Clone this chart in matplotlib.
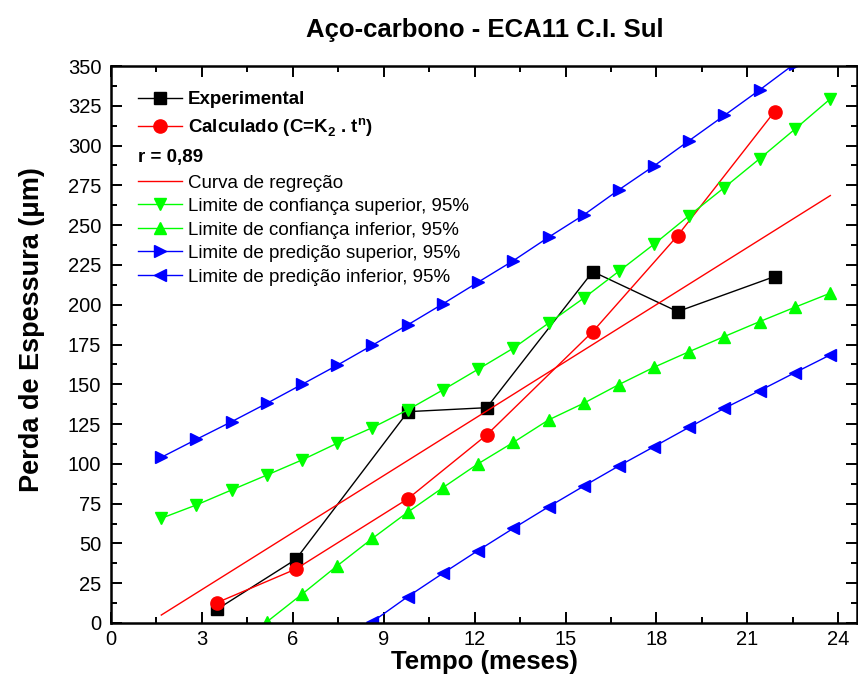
import numpy as np
import matplotlib
matplotlib.use("Agg")
import matplotlib.pyplot as plt

plt.rcParams['font.family'] = ['Liberation Sans', 'DejaVu Sans']
plt.rcParams['mathtext.fontset'] = 'custom'
plt.rcParams['mathtext.rm'] = 'Liberation Sans'
plt.rcParams['mathtext.bf'] = 'Liberation Sans:bold'

# dados experimentais e calculados
meses = [3.5, 6.1, 9.8, 12.4, 15.9, 18.7, 21.9]
experimental = [8.6, 40.0, 132.8, 135.3, 220.8, 195.7, 217.7]
calculado = [12.8, 33.9, 78.1, 118.2, 183.1, 243.4, 321.4]

# curva de regressão (reta)
x_reg = [1.66, 23.74]
y_reg = [5.0, 268.6]

# limites (grelha comum)
x_lim = [1.66, 2.82, 3.98, 5.15, 6.31, 7.47, 8.63, 9.79, 10.95, 12.11,
         13.28, 14.44, 15.60, 16.76, 17.92, 19.08, 20.24, 21.41, 22.57, 23.73]
conf_sup = [65.8, 74.2, 83.6, 93.0, 102.5, 113.0, 122.8, 133.9, 146.4, 159.4,
            172.7, 188.4, 204.1, 221.0, 238.0, 256.0, 273.6, 291.8, 310.3, 329.2]
conf_inf = [0.8, 18.2, 36.0, 53.2, 69.6, 85.0, 100.0, 113.5, 127.6, 138.1,
            149.8, 160.7, 170.5, 180.0, 189.4, 198.4, 207.2]  # a partir de x_lim[3]
pred_sup = [104.1, 115.4, 126.5, 138.1, 150.0, 162.0, 174.6, 187.3, 200.5, 214.1,
            227.7, 242.4, 256.4, 272.2, 287.2, 303.1, 318.9, 335.0, 351.5]
pred_inf = [0.8, 16.5, 31.2, 45.5, 59.5, 73.0, 86.0, 98.7, 110.8, 123.0,
            134.9, 146.0, 157.3, 168.4]  # a partir de x_lim[6]

verde = '#00ff00'
azul = '#0000ff'
vermelho = '#ff0000'

fig = plt.figure(figsize=(8.58, 6.9), dpi=100)
ax = fig.add_axes([111 / 858, 67 / 690, 746 / 858, 557 / 690])

l_exp, = ax.plot(meses, experimental, 'k-', lw=1, marker='s', ms=8.5, label='Experimental')
l_calc, = ax.plot(meses, calculado, '-', color=vermelho, lw=1, marker='o', ms=9.5,
                  label=r'Calculado (C=K$_\mathbf{2}$ . t$^\mathbf{n}$)')
l_reg, = ax.plot(x_reg, y_reg, '-', color=vermelho, lw=1, label='Curva de regreção')
l_cs, = ax.plot(x_lim, conf_sup, '-', color=verde, lw=1, marker='v', ms=9,
                label='Limite de confiança superior, 95%')
l_ci, = ax.plot(x_lim[3:], conf_inf, '-', color=verde, lw=1, marker='^', ms=9,
                label='Limite de confiança inferior, 95%')
l_ps, = ax.plot(x_lim[:len(pred_sup)], pred_sup, '-', color=azul, lw=1, marker='>', ms=9,
                label='Limite de predição superior, 95%')
l_pi, = ax.plot(x_lim[6:], pred_inf, '-', color=azul, lw=1, marker='<', ms=9,
                label='Limite de predição inferior, 95%')

ax.set_xlim(0, 24.62)
ax.set_ylim(0, 350)
ax.set_xticks(np.arange(0, 25, 3))
ax.set_xticks(np.arange(0, 25, 1.5), minor=True)
ax.set_yticks(np.arange(0, 351, 25))
ax.set_yticks(np.arange(0, 351, 12.5), minor=True)
ax.tick_params(which='both', direction='in', top=True, right=True, width=1.4)
ax.tick_params(which='major', length=8, labelsize=14.5)
ax.tick_params(axis='x', which='major', pad=5)
ax.tick_params(axis='y', which='major', pad=7)
ax.tick_params(which='minor', length=4.5)
for s in ax.spines.values():
    s.set_linewidth(1.8)

ax.set_xlabel('Tempo (meses)', fontsize=18.5, fontweight='bold', va='center')
ax.xaxis.set_label_coords(0.501, -0.0705)
ax.set_ylabel('Perda de Espessura (μm)', fontsize=19.5, fontweight='bold', va='center')
ax.yaxis.set_label_coords(-0.106, 0.526)
fig.text(485 / 858, 1 - 30 / 690, 'Aço-carbono - ECA11 C.I. Sul',
         fontsize=18.5, fontweight='bold', ha='center', va='center')

leg1 = ax.legend(handles=[l_exp, l_calc], loc='center left', bbox_to_anchor=(0.0362, 0.912),
                 frameon=False, borderpad=0, borderaxespad=0, handlelength=2.35,
                 handletextpad=0.32, labelspacing=0.4,
                 prop={'size': 13.5, 'weight': 'bold'})
ax.add_artist(leg1)
ax.text(0.0362, 0.8366, 'r = 0,89', transform=ax.transAxes, fontsize=13.5,
        fontweight='bold', ha='left', va='center')
ax.legend(handles=[l_reg, l_cs, l_ci, l_ps, l_pi], loc='center left',
          bbox_to_anchor=(0.0362, 0.7056), frameon=False, borderpad=0, borderaxespad=0,
          handlelength=2.35, handletextpad=0.32, labelspacing=0.34, fontsize=13.5)

fig.savefig('out.png', dpi=100)
